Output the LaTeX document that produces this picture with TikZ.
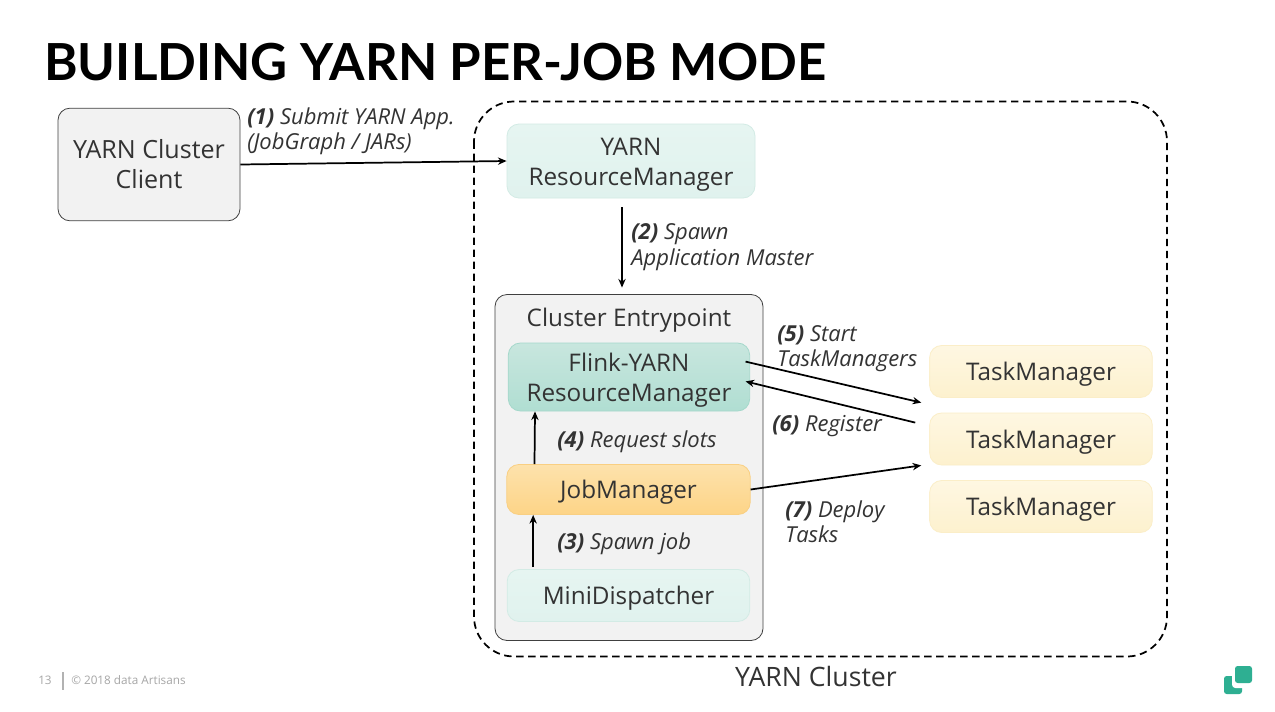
\documentclass[tikz,border=0pt]{standalone}
\usepackage{fontspec}
\setmainfont{Open Sans}
\newfontfamily\titlefont{Lato}
\usetikzlibrary{arrows.meta,calc}
\definecolor{txt}{HTML}{333333}
\definecolor{rmtop}{HTML}{E6F5F1}
\definecolor{rmbot}{HTML}{E0F2EE}
\definecolor{rmedge}{HTML}{D3EBE5}
\definecolor{frmtop}{HTML}{C8E6DE}
\definecolor{frmbot}{HTML}{B0DED2}
\definecolor{frmedge}{HTML}{A5D8CB}
\definecolor{jmtop}{HTML}{FDE2AC}
\definecolor{jmbot}{HTML}{FDD487}
\definecolor{jmedge}{HTML}{F9CF82}
\definecolor{tmtop}{HTML}{FEF7E2}
\definecolor{tmbot}{HTML}{FDF1CE}
\definecolor{tmedge}{HTML}{FBEEC8}
\definecolor{logo}{HTML}{2EAF92}
\tikzset{
  x=0.75pt,y=-0.75pt,
  box/.style={draw=#1,line width=0.6pt,rounded corners=9pt,inner sep=0pt,align=center,text=txt,font=\fontsize{18.2}{22.5}\selectfont},
  greybox/.style={box=black!75,fill=#1},
  conn/.style={draw=black,line width=1.3pt,-{Stealth[length=6.5pt,width=5.5pt]}},
  lab/.style={align=left,anchor=west,text=txt,inner sep=0pt,font=\fontsize{16.5}{19}\selectfont\itshape},
  rmbox/.style={box=rmedge,top color=rmtop,bottom color=rmbot},
  frmbox/.style={box=frmedge,top color=frmtop,bottom color=frmbot},
  jmbox/.style={box=jmedge,top color=jmtop,bottom color=jmbot},
  tmbox/.style={box=tmedge,top color=tmtop,bottom color=tmbot},
}
\newcommand{\st}[1]{{\bfseries\itshape #1}}
\newcommand{\tp}{\rule{0pt}{1.01em}}
\newcommand{\bt}{\rule[-.24em]{0pt}{.24em}}
\begin{document}
\begin{tikzpicture}
\useasboundingbox (0,0) rectangle (1275,711);
\fill[white] (0,0) rectangle (1275,711);
\node[anchor=west,inner sep=0pt,font=\titlefont\fontsize{38.3}{44}\selectfont\bfseries,text=black] (title) at (44,62.5) {BUILDING YARN PER-JOB MODE};
% YARN cluster
\draw[line width=1.3pt,dash pattern=on 5.5pt off 3.5pt,rounded corners=30pt] (474,101.5) rectangle (1167,656.5);
\node[inner sep=0pt,font=\fontsize{20}{24}\selectfont,text=txt] (cl) at (816,676) {YARN Cluster};
% client
\node[greybox=black!5,minimum width=136.5pt,minimum height=84.5pt,anchor=center,font=\fontsize{18.8}{22.5}\selectfont] (client) at (149,164.5) {YARN Cluster\\Client};
\node[rmbox,minimum width=186pt,minimum height=55.5pt] (rm) at (631,161) {\tp YARN\\ResourceManager\bt};
% entrypoint
\node[greybox=black!5,minimum width=201pt,minimum height=259.5pt] (ce) at (629,467.5) {};
\node[inner sep=0pt,font=\fontsize{18.2}{22}\selectfont,text=txt] (cet) at (629,320.5) {Cluster Entrypoint};
\node[frmbox,minimum width=181pt,minimum height=51pt] (frm) at (629,377) {\tp Flink-YARN\\ResourceManager\bt};
\node[jmbox,minimum width=182.5pt,minimum height=37.5pt] (jm) at (628.5,489.5) {\tp JobManager\bt};
\node[rmbox,minimum width=182pt,minimum height=39pt] (md) at (628.5,595.5) {\tp MiniDispatcher\bt};
% task managers
\foreach \n/\y in {tma/371.5,tmb/439,tmc/506.5}{
  \node[tmbox,minimum width=167pt,minimum height=39pt] (\n) at (1041,\y) {\tp TaskManager\bt};
}
% connectors
\draw[conn] (client.east) -- (rm.west);
\draw[conn] ([xshift=-6.75pt,yshift=-6.5pt]rm.south) -- ([xshift=-5.25pt,yshift=4.9pt]ce.north);
\draw[conn] ([xshift=-71.5pt,yshift=1.5pt]md.north) -- ([xshift=-71.5pt]jm.south);
\draw[conn] ([xshift=-70.5pt]jm.north) -- ([xshift=-70.5pt]frm.south);
\draw[conn] ([xshift=-3.4pt,yshift=-14.25pt]frm.north east) -- ([xshift=-6pt,yshift=7.5pt]tmb.north west);
\draw[conn] ([xshift=-10.5pt,yshift=-7.5pt]tmb.north west) -- ([xshift=-3.4pt,yshift=22.5pt]frm.south east);
\draw[conn] (jm.east) -- ([xshift=-6pt,yshift=0pt]tmb.south west);
% labels
\node[lab] (l1) at (247,131) {\st{(1)} Submit YARN App.\\(JobGraph / JARs)};
\node[lab] (l2) at (631,247) {\st{(2)} Spawn\\Application Master};
\node[lab] (l3) at (557,544) {\st{(3)} Spawn job};
\node[lab] (l4) at (557,442) {\st{(4)} Request slots};
\node[lab] (l5) at (777,348.5) {\st{(5)} Start\\TaskManagers};
\node[lab] (l6) at (772,426) {\st{(6)} Register};
\node[lab] (l7) at (785,521.5) {\st{(7)} Deploy\\Tasks};
% footer
\node[anchor=west,inner sep=0pt,font=\fontsize{8.8}{10}\selectfont,text=black!35] (pg) at (38,680) {13};
\draw[black!30,line width=1.5pt] (62.5,672) -- (62.5,690);
\node[anchor=west,inner sep=0pt,font=\fontsize{8.8}{10}\selectfont,text=black!35] (cr) at (71,680) {© 2018 data Artisans};
% logo
\fill[rounded corners=2pt,logo] (1224,676) rectangle (1242,694);
\fill[white,rounded corners=2.5pt] (1232,665) rectangle (1254,688);
\fill[rounded corners=2pt,logo] (1235,666) rectangle (1252,683);
\end{tikzpicture}
\end{document}
